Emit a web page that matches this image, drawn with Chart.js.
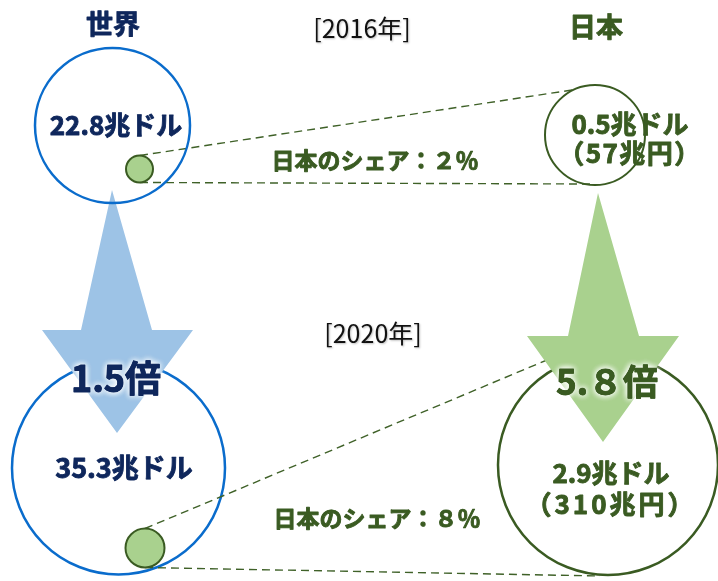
<!DOCTYPE html>
<html lang="ja">
<head>
<meta charset="utf-8">
<script src="https://cdn.jsdelivr.net/npm/chart.js@4.4.1/dist/chart.umd.min.js"></script>
<style>
  html, body { margin: 0; padding: 0; background: #fff; }
  #wrap { width: 718px; height: 581px; }
</style>
</head>
<body>
<div id="wrap"><canvas id="c" width="718" height="581"></canvas></div>
<script>
// --- values ---
const years = ['2016年', '2020年'];
const regions = ['世界', '日本'];
const worldUsd = [22.8, 35.3];   // 兆ドル
const japanUsd = [0.5, 2.9];     // 兆ドル
const japanYen = [57, 310];      // 兆円
const japanShare = [2, 8];       // %
const growth = ['1.5', '5.8'];   // 世界, 日本

// --- layout (frame of 718 x 581) ---
const W = 718, H = 581;
const worldCircle = [{ x: 112.5, y: 125.5, r: 77.5 }, { x: 118.5, y: 468, r: 106.5 }];
const japanCircle = [{ x: 595, y: 135, r: 50 }, { x: 608, y: 465, r: 110 }];
const shareDot = [{ x: 139.5, y: 169, r: 13.5 }, { x: 145, y: 548, r: 19.5 }];
const shareLines = [
  [[{ x: 140, y: 155.5 }, { x: 572, y: 90 }], [{ x: 140, y: 182.5 }, { x: 590, y: 184 }]],
  [[{ x: 145, y: 528.5 }, { x: 547, y: 360 }], [{ x: 145, y: 567.5 }, { x: 600, y: 576 }]]
];
const arrowBlue = [{x:112,y:190},{x:152,y:330},{x:193,y:330},{x:117,y:433},{x:42,y:330},{x:81,y:330},{x:112,y:190}];
const arrowGreen = [{x:598,y:193},{x:639,y:336},{x:679,y:336},{x:603,y:442},{x:527,y:336},{x:568,y:336},{x:598,y:193}];

const NAVY = '#0f275c';
const GREEN = '#3a5b22';
const BLUE = '#0a6ccc';
const FONT = '"Noto Sans CJK JP", "Noto Sans", sans-serif';

const fullDigits = s => String(s).replace(/[0-9]/g, d => String.fromCharCode(0xFF10 + Number(d)));

const labels = [
  { t: regions[0], x: 113, y: 24, size: 27, bold: true, color: NAVY },
  { t: '[' + years[0] + ']', x: 362, y: 28, size: 25, bold: false, color: '#111' },
  { t: regions[1], x: 596, y: 27, size: 27, bold: true, color: GREEN },
  { t: worldUsd[0] + '兆ドル', x: 116, y: 125, size: 26, bold: true, color: NAVY },
  { t: '日本のシェア：' + fullDigits(japanShare[0]) + '％', x: 375, y: 160, size: 23, bold: true, color: GREEN },
  { t: japanUsd[0] + '兆ドル', x: 630, y: 124, size: 26, bold: true, color: GREEN },
  { t: '（' + japanYen[0] + '兆円）', x: 630, y: 153, size: 26, bold: true, color: GREEN, ls: 1.5 },
  { t: '[' + years[1] + ']', x: 373, y: 333, size: 25, bold: false, color: '#111' },
  { t: growth[0] + '倍', x: 116, y: 378, size: 36, bold: true, color: NAVY, glow: true },
  { t: growth[1].replace(/\.(\d)/, (m, d) => '.' + fullDigits(d)) + '倍', x: 607, y: 382, size: 35, bold: true, color: GREEN, glow: true },
  { t: worldUsd[1] + '兆ドル', x: 124, y: 468, size: 27, bold: true, color: NAVY },
  { t: '日本のシェア：' + fullDigits(japanShare[1]) + '％', x: 377, y: 518, size: 23, bold: true, color: GREEN },
  { t: japanUsd[1] + '兆ドル', x: 611, y: 473, size: 26, bold: true, color: GREEN },
  { t: '（' + japanYen[1] + '兆円）', x: 611, y: 504, size: 26, bold: true, color: GREEN, ls: 3 }
];

function circleSet(c, stroke, fill, width, order) {
  return {
    type: 'bubble', data: [{ x: c.x, y: c.y, r: c.r }],
    borderColor: stroke, backgroundColor: fill, borderWidth: width,
    hoverRadius: 0, hoverBorderWidth: width, clip: false, order: order
  };
}
function dashSet(pts, order) {
  return {
    type: 'line', data: pts, borderColor: '#3f6128', borderWidth: 1.4,
    borderDash: [8, 5], pointRadius: 0, tension: 0, fill: false, clip: false, order: order
  };
}
function arrowSet(pts, color, order) {
  return {
    type: 'line', data: pts, borderWidth: 0, borderColor: color, backgroundColor: color,
    pointRadius: 0, tension: 0, fill: 'shape', clip: false, order: order
  };
}

// lower order is drawn on top
const datasets = [
  circleSet(shareDot[0], GREEN, '#a9d18e', 2, 1),
  circleSet(shareDot[1], GREEN, '#a9d18e', 2, 1),
  circleSet(worldCircle[0], BLUE, 'rgba(0,0,0,0)', 2.5, 2),
  circleSet(japanCircle[0], GREEN, 'rgba(0,0,0,0)', 2, 2),
  arrowSet(arrowBlue, '#9dc3e6', 3),
  arrowSet(arrowGreen, '#a9d18e', 3),
  dashSet(shareLines[0][0], 4), dashSet(shareLines[0][1], 4),
  dashSet(shareLines[1][0], 4), dashSet(shareLines[1][1], 4),
  circleSet(worldCircle[1], BLUE, 'rgba(0,0,0,0)', 2.5, 5),
  circleSet(japanCircle[1], GREEN, 'rgba(0,0,0,0)', 2.5, 5)
];

const textPlugin = {
  id: 'texts',
  afterDatasetsDraw(chart) {
    const ctx = chart.ctx, xs = chart.scales.x, ys = chart.scales.y;
    ctx.save();
    ctx.textAlign = 'center';
    ctx.textBaseline = 'middle';
    labels.forEach(l => {
      const px = xs.getPixelForValue(l.x), py = ys.getPixelForValue(l.y);
      ctx.font = (l.bold ? '700 ' : '400 ') + l.size + 'px ' + FONT;
      ctx.letterSpacing = (l.ls || 0) + 'px';
      if (l.glow) {
        ctx.shadowColor = 'rgba(255,255,255,0.95)';
        ctx.shadowBlur = 6;
        ctx.fillStyle = l.color;
        for (let i = 0; i < 3; i++) ctx.fillText(l.t, px, py);
        ctx.shadowBlur = 0;
        ctx.shadowColor = 'transparent';
      } else if (!l.bold) {
        ctx.shadowColor = 'rgba(0,0,0,0.25)';
        ctx.shadowBlur = 2;
        ctx.shadowOffsetX = 1;
        ctx.shadowOffsetY = 1;
      }
      ctx.fillStyle = l.color;
      ctx.fillText(l.t, px, py);
      ctx.shadowColor = 'transparent';
      ctx.shadowBlur = 0;
      ctx.shadowOffsetX = 0;
      ctx.shadowOffsetY = 0;
      if (l.bold) {
        // heavier strokes, like the original's bold gothic face
        ctx.strokeStyle = l.color;
        ctx.lineWidth = 0.9;
        ctx.lineJoin = 'round';
        ctx.strokeText(l.t, px, py);
      }
    });
    ctx.restore();
  }
};

new Chart(document.getElementById('c'), {
  type: 'scatter',
  data: { datasets: datasets },
  options: {
    responsive: false,
    animation: false,
    events: [],
    layout: { padding: 0, autoPadding: false },
    scales: {
      x: { type: 'linear', min: 0, max: W, display: false },
      y: { type: 'linear', min: 0, max: H, reverse: true, display: false }
    },
    plugins: { legend: { display: false }, tooltip: { enabled: false } }
  },
  plugins: [textPlugin]
});
</script>
</body>
</html>
